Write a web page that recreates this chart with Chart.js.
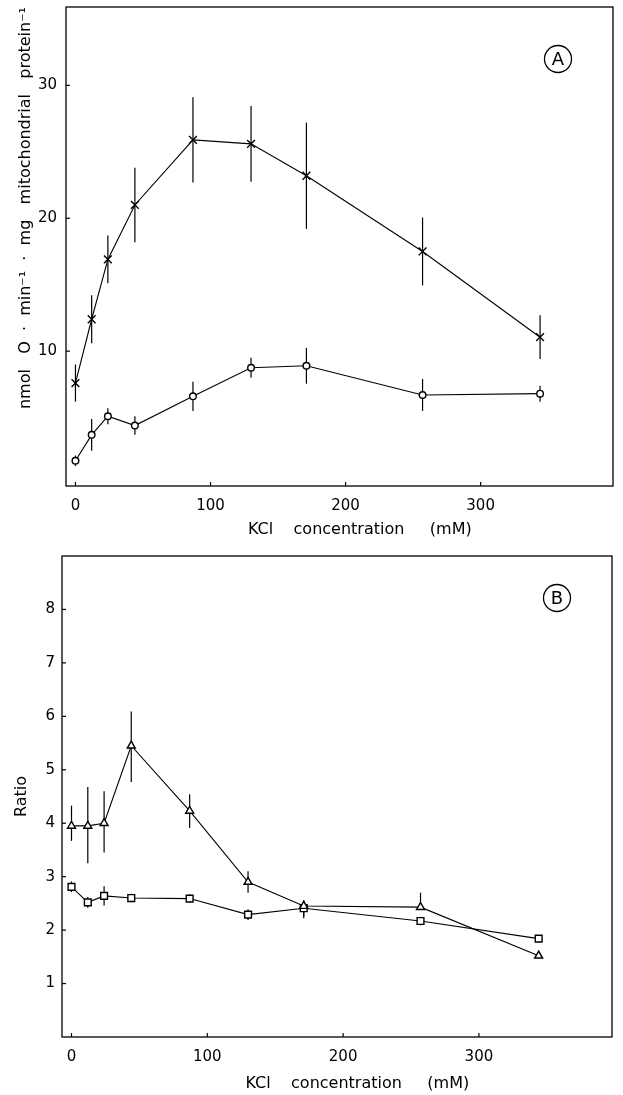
<!DOCTYPE html>
<html><head><meta charset="utf-8">
<script src="https://cdn.jsdelivr.net/npm/chart.js@4.4.1/dist/chart.umd.min.js"></script>
<style>
html,body{margin:0;padding:0;background:#fff;width:623px;height:1095px;overflow:hidden;}
#cA{position:absolute;left:0;top:-11px;}
#cB{position:absolute;left:0;top:540px;}
</style></head><body>
<canvas id="cA" width="623" height="559"></canvas>
<canvas id="cB" width="623" height="555"></canvas>
<script>
// ---- data ----
const kcl = [0, 12, 24, 44, 87, 130, 171, 257, 344];           // KCl concentration (mM)
const xTicks = [0, 100, 200, 300];
const yTicksA = [10, 20, 30];
const yTicksB = [1, 2, 3, 4, 5, 6, 7, 8];

// Panel A: nmol O . min-1 . mg mitochondrial protein-1
const rateCross    = [7.6, 12.4, 16.9, 21.0, 25.9, 25.6, 23.2, 17.5, 11.05];
const rateCrossErr = [1.4, 1.8, 1.8, 2.8, 3.2, 2.85, 4.0, 2.55, 1.65];
const rateCircle    = [1.75, 3.7, 5.1, 4.4, 6.6, 8.75, 8.9, 6.7, 6.8];
const rateCircleErr = [0.4, 1.2, 0.6, 0.7, 1.1, 0.75, 1.35, 1.2, 0.6];

// Panel B: ratio
const ratioTri     = [3.95, 3.95, 4.0, 5.45, 4.23, 2.9, 2.45, 2.43, 1.52];
const ratioTriUp   = [0.38, 0.73, 0.6, 0.64, 0.31, 0.2, 0.1, 0.27, 0.05];
const ratioTriDown = [0.28, 0.7, 0.55, 0.68, 0.32, 0.2, 0.23, 0.05, 0.03];
const ratioSq      = [2.81, 2.52, 2.64, 2.6, 2.59, 2.29, 2.41, 2.17, 1.84];
const ratioSqErr   = [0.1, 0.1, 0.18, 0.08, 0.08, 0.1, 0.15, 0.08, 0.06];

const FONT = "'DejaVu Sans', sans-serif";
const pts = (ys) => kcl.map((x, i) => ({x, y: ys[i]}));

const frameAndTicks = {
  id: 'frameAndTicks',
  afterDraw(chart) {
    const {ctx, chartArea: a, scales} = chart;
    ctx.save();
    ctx.strokeStyle = '#000';
    ctx.lineWidth = 1.3;
    ctx.strokeRect(a.left, a.top, a.right - a.left, a.bottom - a.top);
    ctx.lineWidth = 1.2;
    const xs = scales.x, ys = scales.y;
    xs.ticks.forEach(t => {
      const px = xs.getPixelForValue(t.value);
      ctx.beginPath(); ctx.moveTo(px, a.bottom); ctx.lineTo(px, a.bottom - 4); ctx.stroke();
    });
    ys.ticks.forEach(t => {
      const py = ys.getPixelForValue(t.value);
      ctx.beginPath(); ctx.moveTo(a.left, py); ctx.lineTo(a.left + 4, py); ctx.stroke();
    });
    ctx.restore();
  }
};

const errorBars = {
  id: 'errorBars',
  beforeDatasetsDraw(chart) {
    const {ctx, scales: {x, y}} = chart;
    ctx.save();
    ctx.strokeStyle = '#000';
    ctx.lineWidth = 1.2;
    chart.data.datasets.forEach(ds => {
      if (!ds.errUp) return;
      ds.data.forEach((p, i) => {
        const px = x.getPixelForValue(p.x);
        ctx.beginPath();
        ctx.moveTo(px, y.getPixelForValue(p.y + ds.errUp[i]));
        ctx.lineTo(px, y.getPixelForValue(p.y - ds.errDown[i]));
        ctx.stroke();
      });
    });
    ctx.restore();
  }
};

const panelLabel = {
  id: 'panelLabel',
  afterDraw(chart, args, opts) {
    const {ctx, chartArea: a} = chart;
    const cx = a.right - opts.dx, cy = a.top + opts.dy;
    ctx.save();
    ctx.strokeStyle = '#000'; ctx.lineWidth = 1.3;
    ctx.beginPath(); ctx.arc(cx, cy, 13.5, 0, Math.PI * 2); ctx.stroke();
    ctx.fillStyle = '#000';
    ctx.font = "18px " + FONT;
    ctx.textAlign = 'center'; ctx.textBaseline = 'middle';
    ctx.fillText(opts.text, cx, cy + 1);
    ctx.restore();
  }
};

function makeChart(id, cfg) {
  return new Chart(document.getElementById(id), {
    type: 'line',
    data: {datasets: cfg.datasets},
    options: {
      responsive: false,
      animation: false,
      devicePixelRatio: 1,
      layout: {padding: {top: cfg.padTop, right: cfg.padRight, left: 0, bottom: 0}},
      plugins: {legend: {display: false}, tooltip: {enabled: false},
                panelLabel: cfg.label},
      scales: {
        x: {
          type: 'linear', min: -7, max: 398,
          afterBuildTicks: s => { s.ticks = xTicks.map(v => ({value: v})); },
          afterFit: s => { s.height = cfg.xHeight; },
          grid: {display: false, drawTicks: false},
          border: {display: false},
          ticks: {color: '#000', font: {family: FONT, size: 15}, padding: 11, maxRotation: 0},
          title: {display: true,
                  text: '\u00a0\u00a0\u00a0\u00a0\u00a0\u00a0\u00a0\u00a0KCl\u00a0\u00a0\u00a0\u00a0concentration\u00a0\u00a0\u00a0\u00a0\u00a0(mM)',
                  color: '#000', font: {family: FONT, size: 16}, padding: {top: 0, bottom: cfg.xTitlePad}}
        },
        y: {
          type: 'linear', min: cfg.yMin, max: cfg.yMax,
          afterBuildTicks: s => { s.ticks = cfg.yTicks.map(v => ({value: v})); },
          afterFit: s => { s.width = cfg.yWidth; },
          grid: {display: false, drawTicks: false},
          border: {display: false},
          ticks: {color: '#000', font: {family: FONT, size: 15}, padding: cfg.yTickPad},
          title: {display: true, text: cfg.yTitle, align: cfg.yAlign,
                  color: '#000', font: {family: FONT, size: 16}, padding: {top: cfg.yTitlePad, bottom: 0}}
        }
      }
    },
    plugins: [errorBars, frameAndTicks, panelLabel]
  });
}

const lineStyle = {borderColor: '#000', borderWidth: 1.1, pointBackgroundColor: '#fff',
                   pointBorderColor: '#000', pointBorderWidth: 1.4, tension: 0, fill: false};

makeChart('cA', {
  padTop: 7, padRight: 10, xHeight: 62, yWidth: 66, xTitlePad: 9, yTitlePad: 16, yTickPad: 9,
  yMin: -0.15, yMax: 35.9, yTicks: yTicksA, yAlign: 'end',
  yTitle: 'nmol\u00a0\u00a0\u00a0O\u00a0\u00a0\u00b7\u00a0\u00a0min\u207b\u00b9\u00a0\u00a0\u00b7\u00a0\u00a0mg\u00a0\u00a0\u00a0mitochondrial\u00a0\u00a0\u00a0protein\u207b\u00b9',
  label: {text: 'A', dx: 55, dy: 52},
  datasets: [
    Object.assign({data: pts(rateCross), errUp: rateCrossErr, errDown: rateCrossErr,
                   pointStyle: 'crossRot', pointRadius: 5.5}, lineStyle),
    Object.assign({data: pts(rateCircle), errUp: rateCircleErr, errDown: rateCircleErr,
                   pointStyle: 'circle', pointRadius: 3.3}, lineStyle)
  ]
});

makeChart('cB', {
  padTop: 10, padRight: 11, xHeight: 58, yWidth: 62, xTitlePad: 2, yTitlePad: 12, yTickPad: 7,
  yMin: 0, yMax: 9, yTicks: yTicksB, yAlign: 'center',
  yTitle: 'Ratio',
  label: {text: 'B', dx: 55, dy: 42},
  datasets: [
    Object.assign({data: pts(ratioTri), errUp: ratioTriUp, errDown: ratioTriDown,
                   pointStyle: 'triangle', pointRadius: 4.6}, lineStyle),
    Object.assign({data: pts(ratioSq), errUp: ratioSqErr, errDown: ratioSqErr,
                   pointStyle: 'rect', pointRadius: 4.8}, lineStyle)
  ]
});
</script>
</body></html>
